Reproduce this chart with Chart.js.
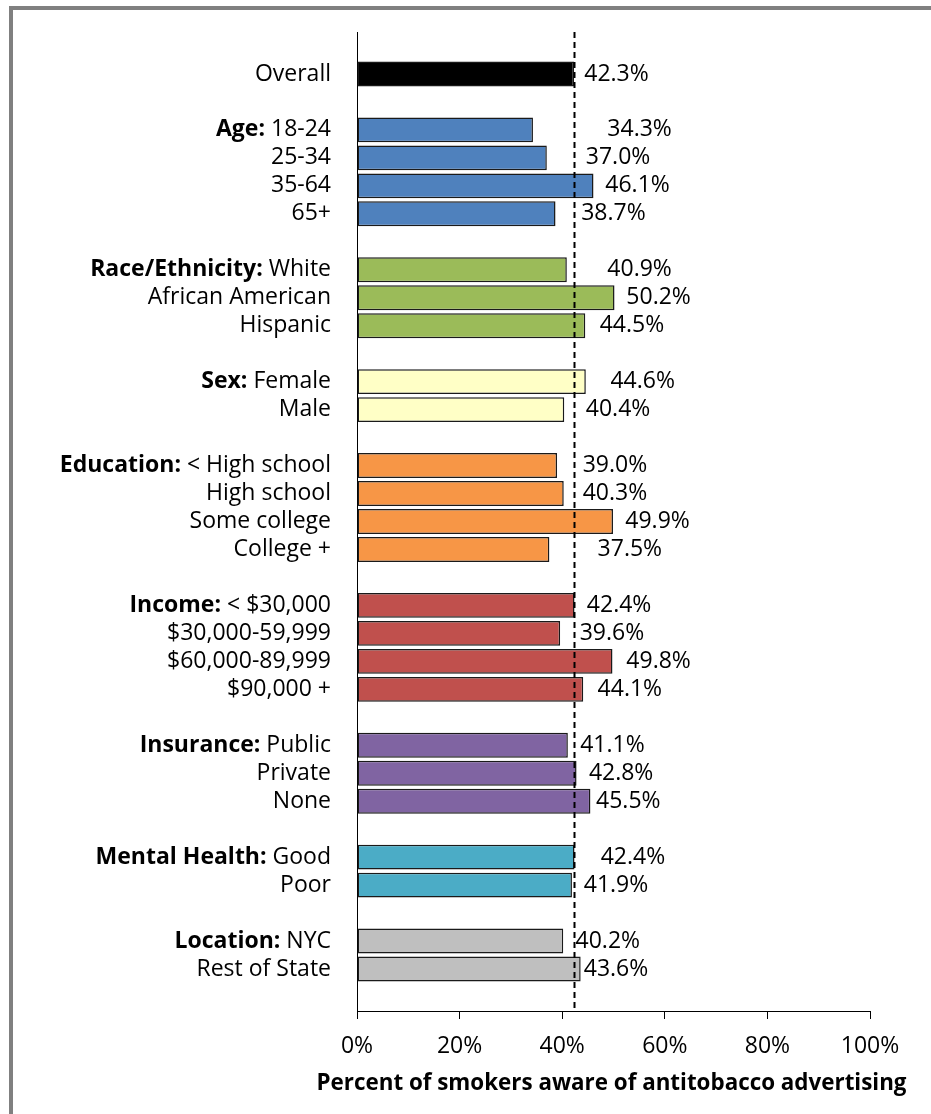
<!DOCTYPE html>
<html>
<head>
<meta charset="utf-8">
<title>Awareness of antitobacco advertising</title>
<script src="https://cdn.jsdelivr.net/npm/chart.js@4/dist/chart.umd.min.js"></script>
<style>
    html, body { margin: 0; padding: 0; background: #fff; }
    #chart { display: block; }
</style>
</head>
<body>
<canvas id="chart" width="931" height="1114"></canvas>
<script>
// Rows, top to bottom ('' = spacer row between groups)
const categories = [
    'Overall', '',
    '18-24', '25-34', '35-64', '65+', '',
    'White', 'African American', 'Hispanic', '',
    'Female', 'Male', '',
    '< High school', 'High school', 'Some college', 'College +', '',
    '< $30,000', '$30,000-59,999', '$60,000-89,999', '$90,000 +', '',
    'Public', 'Private', 'None', '',
    'Good', 'Poor', '',
    'NYC', 'Rest of State'
];

// Bold group heading shown in front of the first row of each group
const groupNames = [
    '', '',
    'Age:', '', '', '', '',
    'Race/Ethnicity:', '', '', '',
    'Sex:', '', '',
    'Education:', '', '', '', '',
    'Income:', '', '', '', '',
    'Insurance:', '', '', '',
    'Mental Health:', '', '',
    'Location:', ''
];

// Percent of smokers aware of antitobacco advertising
const awareness = [
    42.3, null,
    34.3, 37.0, 46.1, 38.7, null,
    40.9, 50.2, 44.5, null,
    44.6, 40.4, null,
    39.0, 40.3, 49.9, 37.5, null,
    42.4, 39.6, 49.8, 44.1, null,
    41.1, 42.8, 45.5, null,
    42.4, 41.9, null,
    40.2, 43.6
];

const overallValue = 42.3;
const xTicks = [0, 20, 40, 60, 80, 100];
const axisTitle = 'Percent of smokers aware of antitobacco advertising';

// Where each value label starts, in axis percent (labels were hand-placed in the original)
const labelAt = [
    44.3, null,
    48.8, 44.6, 48.4, 43.7, null,
    48.8, 52.5, 47.3, null,
    49.4, 44.6, null,
    44.0, 44.0, 52.3, 46.9, null,
    44.8, 43.4, 52.5, 46.9, null,
    43.5, 45.2, 46.6, null,
    47.5, 44.2, null,
    42.6, 44.2
];

const groupColors = {
    overall: '#000000',
    age: '#4F81BD',
    race: '#9BBB59',
    sex: '#FFFFC6',
    education: '#F79646',
    income: '#C0504D',
    insurance: '#8064A2',
    mental: '#4BACC6',
    location: '#BFBFBF'
};
const rowGroups = [
    'overall', null,
    'age', 'age', 'age', 'age', null,
    'race', 'race', 'race', null,
    'sex', 'sex', null,
    'education', 'education', 'education', 'education', null,
    'income', 'income', 'income', 'income', null,
    'insurance', 'insurance', 'insurance', null,
    'mental', 'mental', null,
    'location', 'location'
];

const FONT = "'Open Sans', sans-serif";
const FONT_SIZE = 23;
const LABEL_RIGHT = 331;

// one empty row above and below, like the original plot area
const rows = ['', ...categories, ''];
const rowValues = [null, ...awareness, null];
const rowColors = [null, ...rowGroups.map(g => g ? groupColors[g] : null), null];

const frame = {
    id: 'frame',
    beforeDraw(chart) {
        const ctx = chart.ctx;
        ctx.save();
        ctx.fillStyle = '#ffffff';
        ctx.fillRect(0, 0, chart.width, chart.height);
        ctx.fillStyle = '#808080';
        ctx.fillRect(9, 6, chart.width - 9, 4);
        ctx.fillRect(9, 6, 4, chart.height - 6);
        ctx.restore();
    }
};

const rowLabels = {
    id: 'rowLabels',
    afterDraw(chart) {
        const ctx = chart.ctx;
        const y = chart.scales.y;
        ctx.save();
        ctx.fillStyle = '#000';
        ctx.textBaseline = 'middle';
        ctx.textAlign = 'right';
        categories.forEach((name, i) => {
            if (!name) return;
            const py = y.getPixelForValue(i + 1);
            ctx.font = `${FONT_SIZE}px ${FONT}`;
            ctx.fillText(name, LABEL_RIGHT, py);
            if (groupNames[i]) {
                const w = ctx.measureText(name).width;
                ctx.font = `bold ${FONT_SIZE}px ${FONT}`;
                ctx.fillText(groupNames[i], LABEL_RIGHT - w - 6, py);
            }
        });

        // axis title, wider than the plot area so drawn here rather than by the scale
        const area = chart.chartArea;
        ctx.font = `bold ${FONT_SIZE + 1}px ${FONT}`;
        ctx.textAlign = 'center';
        ctx.fillText(axisTitle, (area.left + area.right) / 2 - 2, 1083, 590);
        ctx.restore();
    }
};

const overallLine = {
    id: 'overallLine',
    afterDatasetsDraw(chart) {
        const ctx = chart.ctx;
        const area = chart.chartArea;
        const px = Math.round(chart.scales.x.getPixelForValue(overallValue)) + 0.5;
        ctx.save();
        ctx.strokeStyle = '#000';
        ctx.lineWidth = 2;
        ctx.setLineDash([6, 4]);
        ctx.beginPath();
        ctx.moveTo(px, area.top);
        ctx.lineTo(px, area.bottom);
        ctx.stroke();
        ctx.restore();
    }
};

const valueLabels = {
    id: 'valueLabels',
    afterDatasetsDraw(chart) {
        const ctx = chart.ctx;
        const x = chart.scales.x;
        const y = chart.scales.y;
        ctx.save();
        ctx.fillStyle = '#000';
        ctx.font = `${FONT_SIZE}px ${FONT}`;
        ctx.textBaseline = 'middle';
        ctx.textAlign = 'left';
        awareness.forEach((v, i) => {
            if (v === null) return;
            ctx.fillText(v.toFixed(1) + '%', x.getPixelForValue(labelAt[i]), y.getPixelForValue(i + 1));
        });
        ctx.restore();
    }
};

new Chart(document.getElementById('chart'), {
    type: 'bar',
    data: {
        labels: rows,
        datasets: [{
            data: rowValues,
            backgroundColor: rowColors,
            borderColor: '#1a1a1a',
            borderWidth: 1.5,
            borderSkipped: false,
            barPercentage: 0.89,
            categoryPercentage: 1
        }]
    },
    options: {
        indexAxis: 'y',
        responsive: false,
        animation: false,
        layout: { padding: { top: 32, right: 61, left: 0, bottom: 0 } },
        plugins: {
            legend: { display: false },
            tooltip: { enabled: false }
        },
        scales: {
            x: {
                min: xTicks[0],
                max: xTicks[xTicks.length - 1],
                afterBuildTicks: scale => { scale.ticks = xTicks.map(v => ({ value: v })); },
                afterFit: scale => { scale.height = 103; },
                ticks: {
                    callback: v => v + '%',
                    color: '#000',
                    font: { family: FONT, size: FONT_SIZE },
                    padding: 14,
                    maxRotation: 0
                },
                grid: { drawOnChartArea: false, tickLength: 8, color: '#000' },
                border: { color: '#000', width: 1 },
                title: { display: false }
            },
            y: {
                afterFit: scale => { scale.width = 357; },
                ticks: { display: false },
                grid: { drawOnChartArea: false, drawTicks: false },
                border: { color: '#000', width: 1 }
            }
        }
    },
    plugins: [frame, rowLabels, overallLine, valueLabels]
});
</script>
</body>
</html>
